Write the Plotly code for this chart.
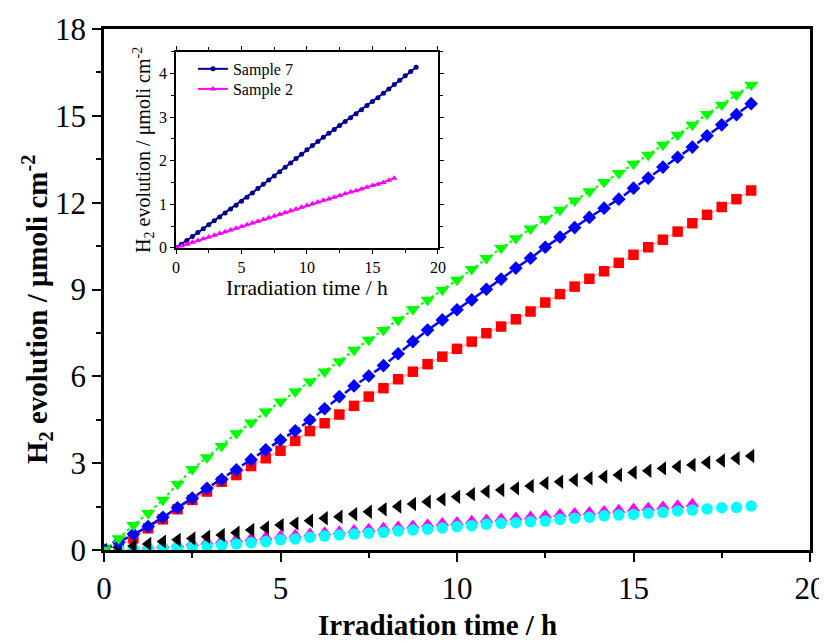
import plotly.graph_objects as go

# Irradiation time (h), sampled every 25 min
time_h = [0, 0.417, 0.833, 1.25, 1.667, 2.083, 2.5, 2.917, 3.333, 3.75, 4.167,
          4.583, 5.0, 5.417, 5.833, 6.25, 6.667, 7.083, 7.5, 7.917, 8.333,
          8.75, 9.167, 9.583, 10.0, 10.417, 10.833, 11.25, 11.667, 12.083, 12.5,
          12.917, 13.333, 13.75, 14.167, 14.583, 15.0, 15.417, 15.833, 16.25, 16.667,
          17.083, 17.5, 17.917, 18.333]

green_vals = [0, 0.40, 0.86, 1.27, 1.73, 2.28, 2.79, 3.20, 3.59, 4.03, 4.40,
              4.78, 5.13, 5.47, 5.82, 6.16, 6.52, 6.91, 7.26, 7.60, 7.95,
              8.32, 8.64, 8.99, 9.33, 9.70, 10.08, 10.43, 10.77, 11.10, 11.43,
              11.75, 12.07, 12.39, 12.71, 13.02, 13.34, 13.65, 14.00, 14.34, 14.69,
              15.06, 15.38, 15.73, 16.07]
blue_vals = [0, 0.27, 0.55, 0.81, 1.13, 1.46, 1.79, 2.13, 2.44, 2.77, 3.12,
             3.46, 3.80, 4.12, 4.49, 4.88, 5.30, 5.67, 6.01, 6.37, 6.78,
             7.20, 7.60, 7.95, 8.30, 8.64, 9.01, 9.36, 9.74, 10.08, 10.46,
             10.81, 11.14, 11.49, 11.81, 12.12, 12.50, 12.85, 13.23, 13.57, 13.92,
             14.31, 14.69, 15.04, 15.42]
red_vals = [0, 0.15, 0.40, 0.75, 1.06, 1.41, 1.73, 2.02, 2.36, 2.59, 2.90,
            3.17, 3.43, 3.77, 4.11, 4.38, 4.68, 4.98, 5.30, 5.59, 5.90,
            6.16, 6.42, 6.68, 6.95, 7.20, 7.49, 7.72, 7.97, 8.24, 8.55,
            8.84, 9.10, 9.37, 9.63, 9.92, 10.20, 10.46, 10.72, 11.00, 11.29,
            11.58, 11.85, 12.12, 12.42]
black_vals = [0, 0.09, 0.14, 0.21, 0.29, 0.35, 0.40, 0.46, 0.52, 0.60, 0.69,
              0.77, 0.86, 0.92, 1.01, 1.10, 1.15, 1.24, 1.32, 1.41, 1.50,
              1.59, 1.67, 1.75, 1.84, 1.93, 2.02, 2.07, 2.13, 2.21, 2.31,
              2.36, 2.42, 2.48, 2.53, 2.59, 2.68, 2.74, 2.82, 2.88, 2.94,
              3.02, 3.09, 3.17, 3.25]
cyan_vals = [0, 0.02, 0.03, 0.05, 0.07, 0.09, 0.11, 0.14, 0.17, 0.21, 0.25,
             0.29, 0.35, 0.38, 0.44, 0.48, 0.52, 0.55, 0.58, 0.61, 0.66,
             0.69, 0.72, 0.76, 0.81, 0.84, 0.89, 0.92, 0.94, 0.98, 1.00,
             1.06, 1.10, 1.13, 1.18, 1.21, 1.23, 1.27, 1.30, 1.35, 1.38,
             1.42, 1.46, 1.47, 1.52]
sample2_vals = [0, 0.04, 0.08, 0.13, 0.17, 0.21, 0.25, 0.29, 0.33, 0.37, 0.41,
                0.45, 0.49, 0.53, 0.57, 0.61, 0.65, 0.69, 0.73, 0.77, 0.81,
                0.85, 0.89, 0.93, 0.97, 1.01, 1.05, 1.09, 1.12, 1.16, 1.20,
                1.24, 1.28, 1.31, 1.35, 1.39, 1.43, 1.46, 1.50, 1.55, 1.60]
sample7_vals = [0, 0.08, 0.17, 0.26, 0.35, 0.44, 0.53, 0.62, 0.71, 0.80, 0.89,
                0.98, 1.07, 1.16, 1.26, 1.36, 1.46, 1.56, 1.65, 1.75, 1.85,
                1.95, 2.05, 2.15, 2.25, 2.35, 2.44, 2.54, 2.63, 2.72, 2.81,
                2.90, 2.99, 3.08, 3.17, 3.27, 3.36, 3.45, 3.55, 3.65, 3.75,
                3.85, 3.95, 4.05, 4.15]

main_x_ticks = [0, 5, 10, 15, 20]
main_y_ticks = [0, 3, 6, 9, 12, 15, 18]
inset_x_ticks = [0, 5, 10, 15, 20]
inset_y_ticks = [0, 1, 2, 3, 4]

x_title = "Irradiation time / h"
y_title = "H<sub>2</sub> evolution / μmoli cm<sup>-2</sup>"

SERIF = "Liberation Serif, Times New Roman, Times, serif"

fig = go.Figure()

# ---- main panel ----
fig.add_trace(go.Scatter(x=time_h, y=red_vals, mode="lines+markers",
                         line=dict(color="#FF8080", width=1),
                         marker=dict(symbol="square", size=10.5, color="#FF0000"),
                         showlegend=False))
fig.add_trace(go.Scatter(x=time_h[:len(sample2_vals)], y=sample2_vals, mode="markers",
                         marker=dict(symbol="triangle-up", size=12, color="#FF00FF"),
                         showlegend=False))
fig.add_trace(go.Scatter(x=time_h, y=cyan_vals, mode="markers",
                         marker=dict(symbol="circle", size=11.5, color="#00FFFF"),
                         showlegend=False))
fig.add_trace(go.Scatter(x=time_h, y=black_vals, mode="markers",
                         marker=dict(symbol="triangle-left", size=12.5, color="#000000"),
                         showlegend=False))
fig.add_trace(go.Scatter(x=time_h, y=blue_vals, mode="lines+markers",
                         line=dict(color="#0000FF", width=2.5, dash="dashdot"),
                         marker=dict(symbol="diamond", size=10.5, color="#0000FF"),
                         showlegend=False))
fig.add_trace(go.Scatter(x=time_h, y=green_vals, mode="lines+markers",
                         line=dict(color="#00FF00", width=2, dash="dot"),
                         marker=dict(symbol="triangle-down", size=12.5, color="#00FF00"),
                         showlegend=False))

# ---- inset ----
fig.add_trace(go.Scatter(x=time_h, y=sample7_vals, mode="lines+markers",
                         name="Sample 7", xaxis="x2", yaxis="y2", legend="legend",
                         line=dict(color="#000090", width=2),
                         marker=dict(symbol="circle", size=5, color="#000090")))
fig.add_trace(go.Scatter(x=time_h[:len(sample2_vals)], y=sample2_vals, mode="lines+markers",
                         name="Sample 2", xaxis="x2", yaxis="y2", legend="legend2",
                         line=dict(color="#FF00FF", width=2),
                         marker=dict(symbol="triangle-up", size=6, color="#FF00FF")))

axis_common = dict(showgrid=False, zeroline=False, linecolor="black", automargin=False,
                   ticks="outside", tickcolor="black")

legend_common = dict(xanchor="left", yanchor="top", bgcolor="rgba(0,0,0,0)",
                     font=dict(family=SERIF, size=16), itemwidth=30)

# The page body adds an 8 px offset; the figure is sized so it fits the
# window and the plot box lands at x 104..810, y 29..550 of the window.
fig.update_layout(
    width=819, height=633,
    margin=dict(l=96, r=17, t=21, b=91, autoexpand=False),
    paper_bgcolor="white", plot_bgcolor="white",
    font=dict(family=SERIF, color="black"),
    xaxis=dict(**axis_common, range=[0, 20], tickvals=main_x_ticks,
               linewidth=2.5, tickwidth=2, ticklen=9, mirror=True,
               minor=dict(dtick=2.5, ticklen=5, tickwidth=2, ticks="outside", tickcolor="black"),
               tickfont=dict(family=SERIF, size=31)),
    yaxis=dict(**axis_common, range=[0, 18], tickvals=main_y_ticks,
               linewidth=2.5, tickwidth=2, ticklen=9, mirror=True,
               minor=dict(dtick=1.5, ticklen=5, tickwidth=2, ticks="outside", tickcolor="black"),
               tickfont=dict(family=SERIF, size=31)),
    xaxis2=dict(**axis_common, domain=[0.102, 0.473], anchor="y2", range=[0, 20],
                tickvals=inset_x_ticks, linewidth=1.5, tickwidth=1, ticklen=4, mirror="ticks",
                minor=dict(dtick=2.5, ticklen=3, tickwidth=1, ticks="outside", tickcolor="black"),
                tickfont=dict(family=SERIF, size=16),
                title=dict(text=x_title, standoff=1,
                           font=dict(family=SERIF, size=21.5))),
    yaxis2=dict(**axis_common, domain=[0.58, 0.956], anchor="x2", range=[0, 4.5],
                tickvals=inset_y_ticks, linewidth=1.5, tickwidth=1, ticklen=4, mirror="ticks",
                minor=dict(dtick=0.5, ticklen=3, tickwidth=1, ticks="outside", tickcolor="black"),
                tickfont=dict(family=SERIF, size=16),
                title=dict(text=y_title, standoff=3,
                           font=dict(family=SERIF, size=20))),
    legend=dict(**legend_common, x=0.126, y=0.956),
    legend2=dict(**legend_common, x=0.126, y=0.9175),
    annotations=[
        dict(text="<b>" + x_title + "</b>", xref="paper", yref="paper",
             x=0.4717, y=-0.143, xanchor="center", yanchor="middle", showarrow=False,
             font=dict(family=SERIF, size=29, color="black")),
        dict(text="<b>" + y_title + "</b>", xref="paper", yref="paper",
             x=-0.0949, y=0.4607, xanchor="center", yanchor="middle", showarrow=False,
             textangle=-90, font=dict(family=SERIF, size=29, color="black")),
    ],
)

fig.write_html("out.html")
